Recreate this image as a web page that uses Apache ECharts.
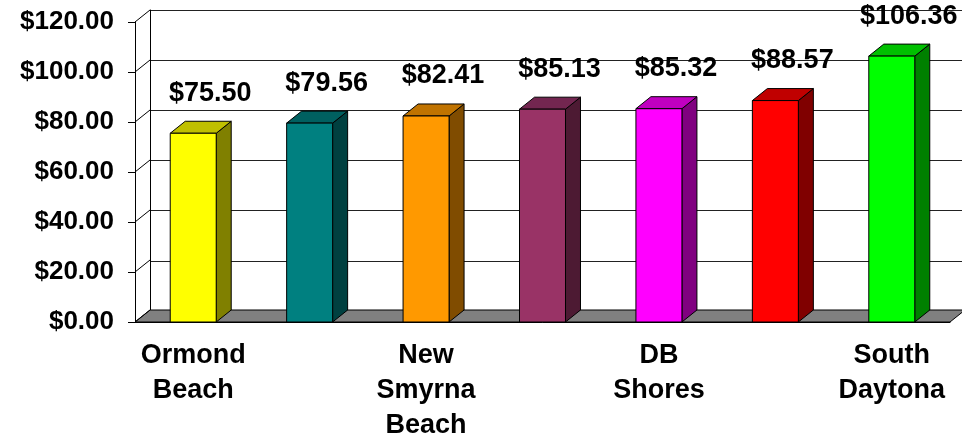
<!DOCTYPE html>
<html>
<head>
<meta charset="utf-8">
<script src="https://cdn.jsdelivr.net/npm/echarts@6/dist/echarts.min.js"></script>
<style>
  html, body { margin: 0; padding: 0; background: #fff; }
  #chart { width: 962px; height: 438px; }
</style>
</head>
<body>
<div id="chart"></div>
<script>
// data
const cities = ['Ormond Beach', '', 'New Smyrna Beach', '', 'DB Shores', '', 'South Daytona'];
const prices = [75.50, 79.56, 82.41, 85.13, 85.32, 88.57, 106.36];
const yTicks = [0, 20, 40, 60, 80, 100, 120];
const frontColors = ['#ffff00', '#008080', '#ff9900', '#993366', '#ff00ff', '#ff0000', '#00ff00'];
const sideColors = ['#808000', '#004040', '#804c00', '#4d1a33', '#800080', '#800000', '#008000'];
const topColors = ['#c0c000', '#006060', '#c07300', '#732650', '#c000c0', '#c00000', '#00c000'];

const DX = 15, DY = 12;   // 3d depth offset
const FONT = 'Liberation Sans, Arial, sans-serif';
const money = v => '$' + v.toFixed(2);

const chart = echarts.init(document.getElementById('chart'));

function renderFloor(params, api) {
  const cs = params.coordSys;
  const yb = cs.y + cs.height;
  return {
    type: 'polygon',
    shape: { points: [[cs.x, yb], [cs.x + DX, yb - DY], [cs.x + cs.width + DX, yb - DY], [cs.x + cs.width, yb]] },
    style: { fill: '#808080', stroke: '#000', lineWidth: 1 }
  };
}

function renderWall(params, api) {
  const cs = params.coordSys;
  const y = api.coord([0, api.value(1)])[1];
  return {
    type: 'line',
    shape: { x1: cs.x, y1: y, x2: cs.x + DX, y2: y - DY },
    style: { stroke: '#000', lineWidth: 1 }
  };
}

function renderBar(params, api) {
  const i = params.dataIndex;
  const top = api.coord([api.value(0), api.value(1)]);
  const base = api.coord([api.value(0), 0]);
  const w = api.size([1, 0])[0] * 0.395;
  const xl = top[0] - w / 2, xr = top[0] + w / 2;
  const yt = top[1], yb = base[1];
  const edge = { stroke: '#000', lineWidth: 1 };
  return {
    type: 'group',
    children: [
      { type: 'polygon', shape: { points: [[xr, yt], [xr + DX, yt - DY], [xr + DX, yb - DY], [xr, yb]] },
        style: Object.assign({ fill: sideColors[i] }, edge) },
      { type: 'polygon', shape: { points: [[xl, yt], [xl + DX, yt - DY], [xr + DX, yt - DY], [xr, yt]] },
        style: Object.assign({ fill: topColors[i] }, edge) },
      { type: 'rect', shape: { x: xl, y: yt, width: w, height: yb - yt },
        style: Object.assign({ fill: frontColors[i] }, edge) },
      { type: 'text',
        style: { text: money(api.value(1)), x: top[0] + 17, y: yt - 40, align: 'center', verticalAlign: 'middle',
                 fontSize: 27, fontWeight: 'bold', fontFamily: FONT, fill: '#000' } }
    ]
  };
}

const option = {
  animation: false,
  backgroundColor: '#fff',
  grid: [
    { left: 135, right: 12, top: 22, bottom: 116, outerBoundsMode: 'none' },
    { left: 150, right: 0, top: 10, bottom: 127, outerBoundsMode: 'none' }
  ],
  xAxis: [
    {
      type: 'category', gridIndex: 0, data: cities, boundaryGap: true,
      axisLine: { lineStyle: { color: '#000' } },
      axisTick: { interval: 0, length: 6, lineStyle: { color: '#000' } },
      axisLabel: {
        interval: 0, margin: 16, color: '#000', fontSize: 27, fontWeight: 'bold', fontFamily: FONT,
        lineHeight: 35, formatter: v => v.split(' ').join('\n')
      }
    },
    { type: 'category', gridIndex: 1, data: cities, show: false }
  ],
  yAxis: [
    {
      type: 'value', gridIndex: 0, min: 0, max: 120, interval: 20,
      axisLine: { show: true, lineStyle: { color: '#000' } },
      axisTick: { show: true, length: 7, lineStyle: { color: '#000' } },
      splitLine: { show: false },
      axisLabel: { margin: 21, color: '#000', fontSize: 26, fontWeight: 'bold', fontFamily: FONT, formatter: money }
    },
    {
      type: 'value', gridIndex: 1, min: 0, max: 120, interval: 20,
      axisLine: { show: true, lineStyle: { color: '#000' } },
      axisTick: { show: false },
      axisLabel: { show: false },
      splitLine: { show: true, lineStyle: { color: '#222', width: 1 } }
    }
  ],
  series: [
    { type: 'custom', xAxisIndex: 0, yAxisIndex: 0, renderItem: renderFloor, data: [[0, 0]], silent: true, z: 1 },
    { type: 'custom', xAxisIndex: 0, yAxisIndex: 0, renderItem: renderWall, data: yTicks.map(v => [0, v]), silent: true, z: 1 },
    { type: 'custom', xAxisIndex: 0, yAxisIndex: 0, renderItem: renderBar, data: prices.map((v, i) => [i, v]), z: 3 }
  ]
};

chart.setOption(option);
</script>
</body>
</html>
